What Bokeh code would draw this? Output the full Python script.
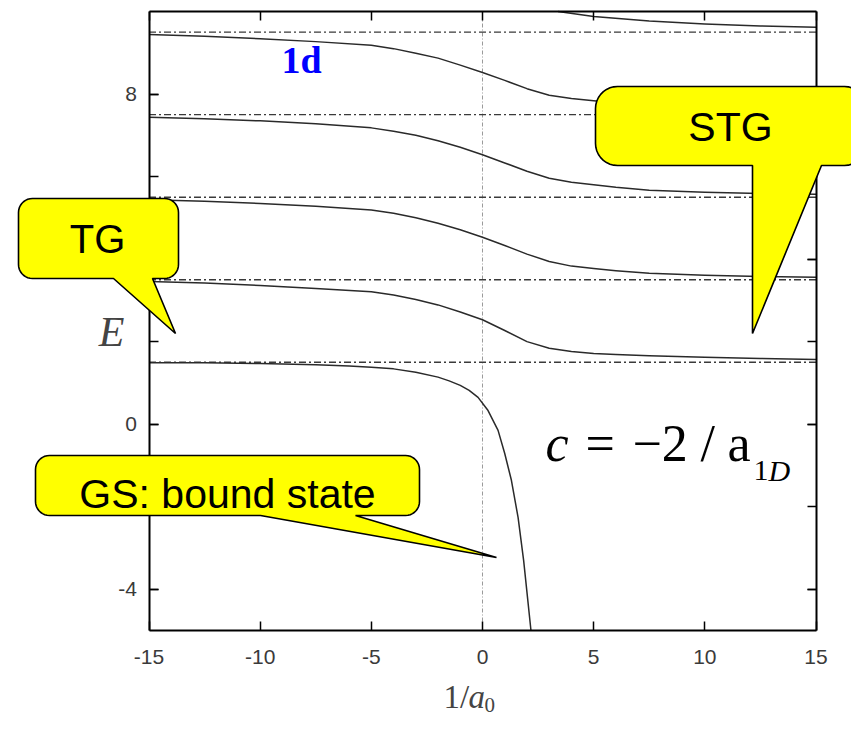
import numpy as np
from bokeh.plotting import figure
from bokeh.models import LinearAxis, FixedTicker, Range1d
from bokeh.core.properties import value
from bokeh.embed import file_html
from bokeh.resources import INLINE

# ---------------- data ----------------
levels = [1.5, 3.5, 5.5, 7.5, 9.5]          # dash-dot asymptotic levels

x_gs = [-15, -12.5, -10, -7.5, -6, -5, -4, -3, -2, -1.5, -1, -0.6, -0.2, 0.25, 0.7, 1.0, 1.3, 1.6, 1.85, 2.18]
e_gs = [1.49, 1.49, 1.47, 1.44, 1.41, 1.38, 1.34, 1.26, 1.14, 1.05, 0.94, 0.82, 0.65, 0.33, -0.15, -0.71, -1.36, -2.26, -3.30, -5.0]

x_exc = [-15, -12.5, -10, -7.5, -5, -4, -3, -2, -1, 0, 1, 2, 3, 4, 5, 6, 7.5, 10, 12.5, 15]
e_2 = [3.46, 3.42, 3.36, 3.29, 3.21, 3.13, 3.02, 2.89, 2.72, 2.53, 2.27, 2.00, 1.84, 1.76, 1.71, 1.69, 1.66, 1.62, 1.59, 1.57]
e_3 = [5.44, 5.40, 5.35, 5.28, 5.19, 5.11, 5.00, 4.87, 4.71, 4.53, 4.33, 4.12, 3.94, 3.83, 3.77, 3.72, 3.66, 3.61, 3.58, 3.56]
e_4 = [7.44, 7.40, 7.35, 7.28, 7.18, 7.10, 7.00, 6.87, 6.71, 6.53, 6.33, 6.13, 5.96, 5.86, 5.80, 5.74, 5.67, 5.62, 5.59, 5.57]
e_5 = [9.44, 9.40, 9.34, 9.27, 9.18, 9.10, 8.99, 8.87, 8.70, 8.52, 8.33, 8.13, 7.97, 7.89, 7.84, 7.78, 7.72, 7.66, 7.63, 7.61]

x_6 = [3.4, 5, 7.5, 10, 12.5, 15]
e_6 = [10.0, 9.88, 9.77, 9.70, 9.65, 9.62]

x_ticks = [-15, -10, -5, 0, 5, 10, 15]
y_ticks = [-4, 0, 4, 8]
y_minor = [-4, -2, 0, 2, 4, 6, 8]
x_lim = (-15, 15)
y_lim = (-5, 10)

# ---------------- geometry ----------------
W, H = 851, 715
OFF = 0
SX = 667.0 / 30.0      # px per x unit
SY = 619.0 / 15.0      # px per y unit
x0 = x_lim[0] - (148.5 - OFF) / SX
x1 = x0 + W / SX
y1 = y_lim[1] + (11 - OFF) / SY
y0 = y1 - H / SY


def X(px):
    return x0 + (px - OFF) / SX


def Y(py):
    return y1 - (py - OFF) / SY


p = figure(width=W, height=H, x_range=Range1d(x0, x1), y_range=Range1d(y0, y1),
           x_axis_location=None, y_axis_location=None, toolbar_location=None,
           output_backend="svg", min_border=0, outline_line_color=None,
           background_fill_color="white", border_fill_color="white")
p.grid.visible = False


def style_axis(ax, labels=True):
    ax.axis_line_width = 2
    ax.axis_line_color = "black"
    ax.major_tick_in = 9
    ax.major_tick_out = 0
    ax.major_tick_line_width = 1.5
    ax.major_tick_line_color = "black"
    ax.minor_tick_in = 9
    ax.minor_tick_out = 0
    ax.minor_tick_line_width = 1.5
    ax.minor_tick_line_color = "black"
    ax.major_label_text_font = "Liberation Sans"
    ax.major_label_text_font_size = "21px"
    ax.major_label_text_color = "#3a3a3a" if labels else None


x_labels = {t: str(t) for t in x_ticks}
y_labels = {t: str(t) for t in y_ticks}

bottom = LinearAxis(fixed_location=y_lim[0], bounds=x_lim,
                    ticker=FixedTicker(ticks=x_ticks), major_label_overrides=x_labels)
style_axis(bottom)
bottom.major_label_standoff = 19
top = LinearAxis(fixed_location=y_lim[1], bounds=x_lim,
                 ticker=FixedTicker(ticks=x_ticks))
style_axis(top, labels=False)
left = LinearAxis(fixed_location=x_lim[0], bounds=y_lim,
                  ticker=FixedTicker(ticks=y_ticks, minor_ticks=y_minor),
                  major_label_overrides=y_labels)
style_axis(left)
left.major_label_standoff = 12
right = LinearAxis(fixed_location=x_lim[1], bounds=y_lim,
                   ticker=FixedTicker(ticks=y_ticks, minor_ticks=y_minor))
style_axis(right, labels=False)
p.add_layout(bottom, "below")
p.add_layout(top, "above")
p.add_layout(left, "left")
p.add_layout(right, "right")

# vertical dotted line at 1/a0 = 0
p.line([0, 0], list(y_lim), line_color="#9a9a9a", line_width=1, line_dash="4 2 1 2")

# dash-dot asymptotes
for lv in levels:
    p.line(list(x_lim), [lv, lv], line_color="#3a3a3a", line_width=1.4, line_dash="7 3 2 3")

# energy curves
for xs, ys in [(x_gs, e_gs), (x_exc, e_2), (x_exc, e_3), (x_exc, e_4), (x_exc, e_5), (x_6, e_6)]:
    p.line(xs, ys, line_color="#2a2a2a", line_width=1.5, line_join="round")


# ---------------- callouts ----------------
def callout(left_, top_, right_, bottom_, r, tail):
    pts = []

    def arc(cx, cy, a0, a1):
        for t in np.linspace(a0, a1, 10):
            pts.append((cx + r * np.cos(t), cy + r * np.sin(t)))

    arc(left_ + r, top_ + r, np.pi, 1.5 * np.pi)
    arc(right_ - r, top_ + r, 1.5 * np.pi, 2 * np.pi)
    arc(right_ - r, bottom_ - r, 0, 0.5 * np.pi)
    pts += [(tail[1], bottom_), (tail[2], tail[3]), (tail[0], bottom_)]
    arc(left_ + r, bottom_ - r, 0.5 * np.pi, np.pi)
    return [X(a) for a, b in pts], [Y(b) for a, b in pts]


for box in [(18, 198, 178, 278, 14, (113, 152, 175, 333)),
            (595, 86, 866, 165, 22, (752, 821, 752, 333)),
            (35, 455, 419, 515, 14, (260, 355, 496, 557))]:
    cx, cy = callout(*box)
    p.patch(cx, cy, fill_color="#FFFF00", line_color="black", line_width=1.6, level="overlay")


def txt(px, py, s, font, size, color="black", style="normal", align="left", level="overlay"):
    p.text(x=[X(px)], y=[Y(py)], text=[s], text_font=value(font), text_font_size=size,
           text_color=color, text_font_style=style, text_align=align,
           text_baseline="middle", level=level)


txt(97, 238, "TG", "Liberation Sans", "40px", align="center")
txt(730, 126, "STG", "Liberation Sans", "41px", align="center")
txt(227, 493, "GS: bound state", "Liberation Sans", "41px", align="center")

txt(301, 59, "1d", "Liberation Serif", "38px", color="#0000FF", style="bold", align="center", level="glyph")

# formula c = -2 / a_1D
SER = "Liberation Serif"
txt(545, 443, "c", SER, "52px", style="italic", level="glyph")
txt(585, 443, "=", SER, "52px", level="glyph")
txt(632, 443, "\u22122", SER, "52px", level="glyph")
txt(700, 443, "/", SER, "52px", level="glyph")
txt(727, 443, "a", SER, "52px", level="glyph")
txt(753, 470, "1", SER, "30px", level="glyph")
txt(768, 470, "D", SER, "30px", style="italic", level="glyph")

# axis titles
txt(111, 331, "E", SER, "42px", color="#444444", style="italic", align="center", level="glyph")
txt(443, 696, "1/", SER, "33px", color="#444444", level="glyph")
txt(468, 696, "a", SER, "33px", color="#444444", style="italic", level="glyph")
txt(484, 704, "0", SER, "21px", color="#444444", level="glyph")

open("out.html", "w").write(file_html(p, INLINE))
